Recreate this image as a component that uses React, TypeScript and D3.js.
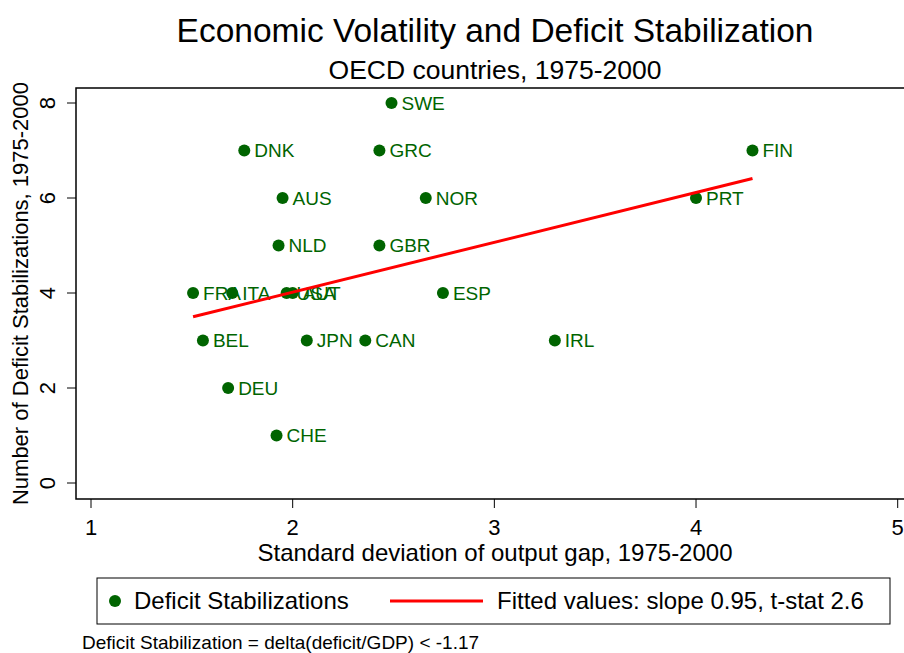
import * as d3 from 'd3';
import React from 'react';

const countries = ['FRA', 'ITA', 'USA', 'AUT', 'BEL', 'DEU', 'CHE', 'DNK', 'AUS', 'NLD', 'JPN', 'CAN', 'GBR', 'GRC', 'SWE', 'NOR', 'ESP', 'IRL', 'PRT', 'FIN'];
const outputGapSd = [1.506, 1.70, 1.97, 2.0, 1.555, 1.68, 1.92, 1.76, 1.95, 1.93, 2.07, 2.36, 2.43, 2.43, 2.49, 2.66, 2.745, 3.30, 4.0, 4.28];
const stabilizations = [4, 4, 4, 4, 3, 2, 1, 7, 6, 5, 3, 3, 5, 7, 8, 6, 4, 3, 6, 7];

// fitted line end points
const fitX = [1.506, 4.28];
const fitY = [3.5, 6.41];

const xTicks = [1, 2, 3, 4, 5];
const yTicks = [0, 2, 4, 6, 8];

const WIDTH = 904;
const HEIGHT = 653;
const GREEN = '#006400';
const FONT = 'Arial, "Liberation Sans", sans-serif';

const box = { left: 76, top: 88, right: 914, bottom: 499 };

const App: React.FC = () => {
    const x = d3.scaleLinear().domain([1, 5]).range([91, 897.7]);
    const y = d3.scaleLinear().domain([0, 8]).range([483, 103]);

    const fitLine = d3
        .line<number>()
        .x((d) => x(d))
        .y((_, i) => y(fitY[i]));

    return (
        <svg
            width={WIDTH}
            height={HEIGHT}
            style={{ position: 'absolute', left: 0, top: 0, background: '#fff' }}
            fontFamily={FONT}
        >
            <rect width={WIDTH} height={HEIGHT} fill="#fff" />

            <text x={495} y={42} textAnchor="middle" fontSize={33.5}>
                Economic Volatility and Deficit Stabilization
            </text>
            <text x={495} y={79} textAnchor="middle" fontSize={26.5}>
                OECD countries, 1975-2000
            </text>

            {/* plot box (right edge runs off the page) */}
            <path
                d={`M${box.right},${box.top}H${box.left}V${box.bottom}H${box.right}`}
                fill="none"
                stroke="#000"
                strokeWidth={1.5}
            />

            {yTicks.map((t) => (
                <g key={`y${t}`}>
                    <line x1={box.left} x2={box.left - 9} y1={y(t)} y2={y(t)} stroke="#000" />
                    <text
                        transform={`translate(${55},${y(t)}) rotate(-90)`}
                        textAnchor="middle"
                        fontSize={22}
                    >
                        {t}
                    </text>
                </g>
            ))}
            {xTicks.map((t) => (
                <g key={`x${t}`}>
                    <line x1={x(t)} x2={x(t)} y1={box.bottom} y2={box.bottom + 9} stroke="#000" />
                    <text x={x(t)} y={535} textAnchor="middle" fontSize={22}>
                        {t}
                    </text>
                </g>
            ))}

            <text
                transform={`translate(${28},${293.5}) rotate(-90)`}
                textAnchor="middle"
                fontSize={22}
            >
                Number of Deficit Stabilizations, 1975-2000
            </text>
            <text x={495} y={561} textAnchor="middle" fontSize={24}>
                Standard deviation of output gap, 1975-2000
            </text>

            {countries.map((c, i) => (
                <g key={c}>
                    <circle cx={x(outputGapSd[i])} cy={y(stabilizations[i])} r={6} fill={GREEN} />
                    <text
                        x={x(outputGapSd[i]) + 10}
                        y={y(stabilizations[i])}
                        dy="0.35em"
                        fontSize={19}
                        fill={GREEN}
                    >
                        {c}
                    </text>
                </g>
            ))}

            <path d={fitLine(fitX) ?? ''} fill="none" stroke="#ff0000" strokeWidth={3} />

            {/* legend */}
            <rect x={97} y={578} width={793} height={46} fill="#fff" stroke="#000" strokeWidth={1} />
            <circle cx={115} cy={601} r={6} fill={GREEN} />
            <text x={134} y={601} dy="0.35em" fontSize={24}>
                Deficit Stabilizations
            </text>
            <line x1={390} x2={483} y1={601} y2={601} stroke="#ff0000" strokeWidth={3} />
            <text x={497} y={601} dy="0.35em" fontSize={24}>
                Fitted values: slope 0.95, t-stat 2.6
            </text>

            <text x={82} y={649} fontSize={19}>
                Deficit Stabilization = delta(deficit/GDP) &lt; -1.17
            </text>
        </svg>
    );
};

export default App;
